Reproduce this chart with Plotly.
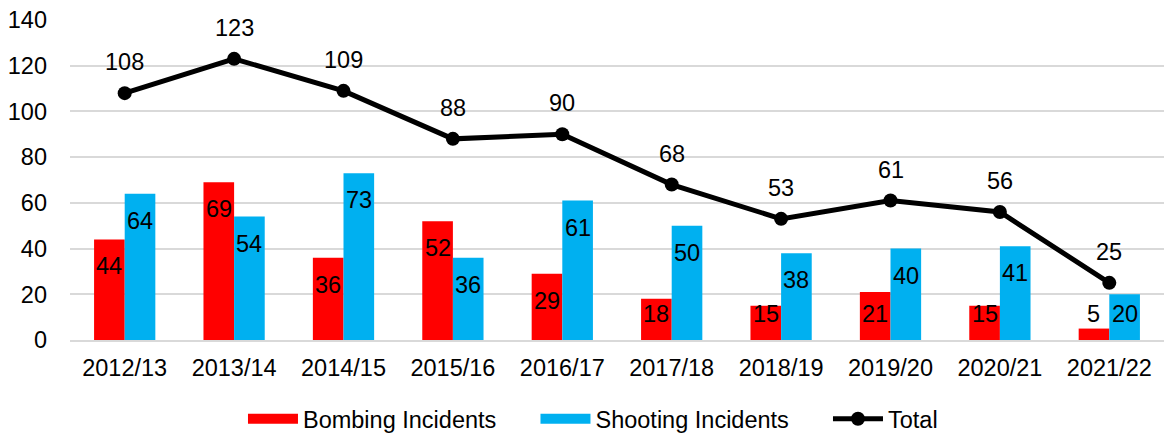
import plotly.graph_objects as go

categories = ["2012/13", "2013/14", "2014/15", "2015/16", "2016/17",
              "2017/18", "2018/19", "2019/20", "2020/21", "2021/22"]
bombing = [44, 69, 36, 52, 29, 18, 15, 21, 15, 5]
shooting = [64, 54, 73, 36, 61, 50, 38, 40, 41, 20]
total = [108, 123, 109, 88, 90, 68, 53, 61, 56, 25]

RED = "#FF0000"
BLUE = "#00B0F0"
FONT = "Arial, Liberation Sans, sans-serif"
FS = 23.5

fig = go.Figure()
fig.add_trace(go.Bar(name="Bombing Incidents", x=categories, y=bombing,
                     marker=dict(color=RED, line=dict(width=0)),
                     offsetgroup="b", showlegend=False))
fig.add_trace(go.Bar(name="Shooting Incidents", x=categories, y=shooting,
                     marker=dict(color=BLUE, line=dict(width=0)),
                     offsetgroup="s", showlegend=False))
fig.add_trace(go.Scatter(name="Total", x=categories, y=total, mode="lines+markers",
                         line=dict(color="black", width=5),
                         marker=dict(color="black", size=14), showlegend=False))

# legend-only entries (wide swatches like the original)
fig.add_trace(go.Scatter(name="Bombing Incidents", x=[None], y=[None], mode="lines",
                         line=dict(color=RED, width=16)))
fig.add_trace(go.Scatter(name="Shooting Incidents", x=[None], y=[None], mode="lines",
                         line=dict(color=BLUE, width=16)))
fig.add_trace(go.Scatter(name="Total", x=[None], y=[None], mode="lines+markers",
                         line=dict(color="black", width=5),
                         marker=dict(color="black", size=14)))

# Data-label positioning (Excel "inside end" with clamp near axis)
px_per_unit = 320 / 140.0
inset = 27 / px_per_unit
floor_ = 26 / px_per_unit
bar_offset = 0.14

annotations = []
for i, c in enumerate(categories):
    for vals, sign in ((bombing, -1), (shooting, 1)):
        v = vals[i]
        annotations.append(dict(
            x=i + sign * bar_offset, y=max(v - inset, floor_), xref="x", yref="y",
            text=str(v), showarrow=False, font=dict(family=FONT, size=FS, color="black"),
            xanchor="center", yanchor="middle"))
    annotations.append(dict(
        x=i, y=total[i], xref="x", yref="y", yshift=31,
        text=str(total[i]), showarrow=False,
        font=dict(family=FONT, size=FS, color="black"),
        xanchor="center", yanchor="middle"))

fig.update_layout(
    width=1164, height=434,
    margin=dict(l=70, r=0, t=20, b=94, autoexpand=False),
    paper_bgcolor="white", plot_bgcolor="white",
    barmode="group", bargap=0.44, bargroupgap=0,
    font=dict(family=FONT, size=FS, color="black"),
    showlegend=True,
    legend=dict(orientation="h", x=0.5594, xanchor="center", y=-0.247, yanchor="middle",
                font=dict(family=FONT, size=FS, color="black"),
                itemwidth=50, entrywidth=227.5, traceorder="normal",
                bgcolor="rgba(0,0,0,0)"),
    annotations=annotations,
)
fig.update_xaxes(type="category", showgrid=False, showline=True, linecolor="#D9D9D9",
                 linewidth=2, ticks="", tickfont=dict(family=FONT, size=FS, color="black"),
                 range=[-0.5, 9.5], automargin=False, ticklabelstandoff=6)
fig.update_yaxes(range=[0, 140], dtick=20, showgrid=True, gridcolor="#D9D9D9", gridwidth=2,
                 zeroline=False, showline=False, ticks="",
                 tickfont=dict(family=FONT, size=FS, color="black"),
                 ticklabelstandoff=22, automargin=False)

fig.write_html("out.html", config={"displayModeBar": False},
               post_script="document.body.style.margin='0';document.body.style.overflow='hidden';")
